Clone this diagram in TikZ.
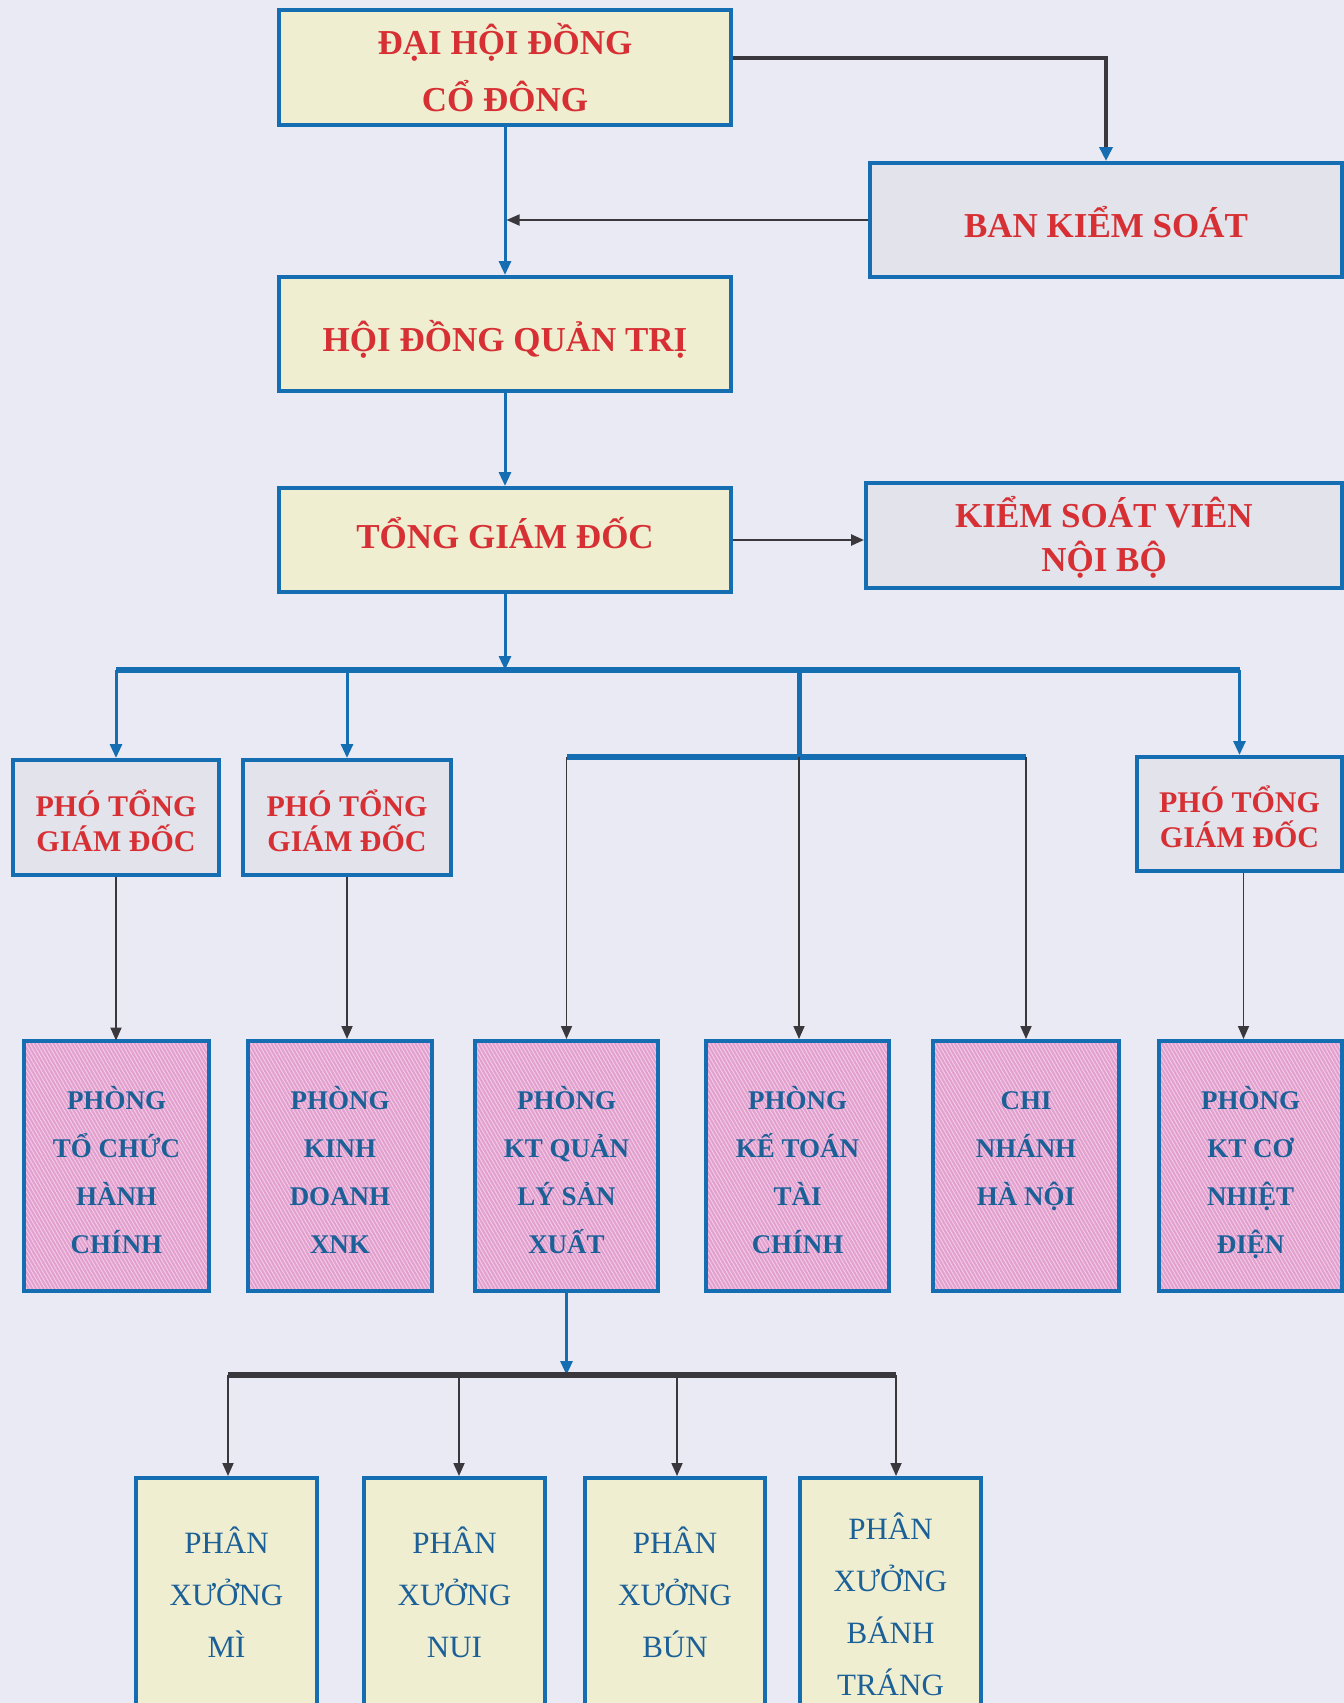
\documentclass[tikz,border=0pt]{standalone}
\usepackage{fontspec}
\setmainfont{Liberation Serif}
\usetikzlibrary{arrows.meta,patterns.meta}

\definecolor{bgc}{RGB}{233,234,243}
\definecolor{bordc}{RGB}{22,110,178}
\definecolor{redt}{RGB}{215,48,52}
\definecolor{bluet}{RGB}{28,96,152}
\definecolor{yelf}{RGB}{239,238,208}
\definecolor{grayf}{RGB}{226,227,235}
\definecolor{pinkf}{RGB}{226,160,206}
\definecolor{pinkl}{RGB}{244,206,232}
\definecolor{darkl}{RGB}{58,56,60}

\newcommand\fbig{\bfseries\fontsize{35}{57}\selectfont}
\newcommand\fksv{\bfseries\fontsize{35}{44}\selectfont}
\newcommand\fptg{\bfseries\fontsize{30}{35}\selectfont}
\newcommand\fpink{\bfseries\fontsize{27}{48}\selectfont}
\newcommand\fbot{\fontsize{31}{52}\selectfont}

\tikzset{
 box/.style={draw=bordc, line width=4pt, inner sep=0pt, align=center},
 ybox/.style={box, fill=yelf, text=redt, font=\fbig},
 gbox/.style={box, fill=grayf, text=redt, font=\fbig},
 ptgbox/.style={box, fill=grayf, text=redt, font=\fptg, minimum height=115pt, text height=70pt, text depth=3pt},
 pbox/.style={box, preaction={fill=pinkf}, pattern={Lines[angle=-60,distance=3.2pt,line width=0.9pt]}, pattern color=pinkl, text=bluet, font=\fpink, minimum height=250pt, text height=174pt, text depth=0pt},
 bbox/.style={box, fill=yelf, text=bluet, font=\fbot, minimum width=181pt},
 bluearr/.style={draw=bordc, line width=3pt, -{Triangle[length=14pt,width=12pt]}},
 blackarr/.style={draw=darkl, line width=1.8pt, -{Triangle[length=13pt,width=11pt]}},
 busline/.style={draw=bordc, line width=6pt},
}

\begin{document}
\begin{tikzpicture}[x=1pt,y=-1pt]
\useasboundingbox (0,0) rectangle (1344,1703);
\clip (0,0) rectangle (1344,1703);
\fill[bgc] (0,0) rectangle (1344,1703);

% top level
\node[ybox, minimum width=452pt, minimum height=115pt] (dhd) at (505,67.5) {ĐẠI HỘI ĐỒNG\\CỔ ĐÔNG};
\node[gbox, minimum width=472pt, minimum height=114pt, text height=40pt, text depth=5pt] (bks) at (1106,220) {BAN KIỂM SOÁT};
\node[ybox, minimum width=452pt, minimum height=114pt, text height=40pt, text depth=5pt] (hdqt) at (505,334) {HỘI ĐỒNG QUẢN TRỊ};
\node[ybox, minimum width=452pt, minimum height=104pt, text height=32pt, text depth=15pt] (tgd) at (505,540) {TỔNG GIÁM ĐỐC};
\node[gbox, font=\fksv, minimum width=476pt, minimum height=105pt, text height=78pt, text depth=7pt] (ksv) at (1104,535.5) {KIỂM SOÁT VIÊN\\NỘI BỘ};

% deputies
\node[ptgbox, minimum width=206pt] (ptg1) at (116,817.5) {PHÓ TỔNG\\GIÁM ĐỐC};
\node[ptgbox, minimum width=208pt] (ptg2) at (347,817.5) {PHÓ TỔNG\\GIÁM ĐỐC};
\node[ptgbox, minimum width=205pt, minimum height=114pt, text height=69pt] (ptg3) at (1239.5,814) {PHÓ TỔNG\\GIÁM ĐỐC};

% departments
\node[pbox, minimum width=185pt] (p1) at (116.5,1166) {PHÒNG\\TỔ CHỨC\\HÀNH\\CHÍNH};
\node[pbox, minimum width=184pt] (p2) at (340,1166) {PHÒNG\\KINH\\DOANH\\XNK};
\node[pbox, minimum width=183pt] (p3) at (566.5,1166) {PHÒNG\\KT QUẢN\\LÝ SẢN\\XUẤT};
\node[pbox, minimum width=183pt] (p4) at (797.5,1166) {PHÒNG\\KẾ TOÁN\\TÀI\\CHÍNH};
\node[pbox, minimum width=186pt] (p5) at (1026,1166) {CHI\\NHÁNH\\HÀ NỘI\\\phantom{X}};
\node[pbox, minimum width=183pt] (p6) at (1250.5,1166) {PHÒNG\\KT CƠ\\NHIỆT\\ĐIỆN};

% workshops
\node[bbox, minimum height=228pt] (b1) at (226.5,1592) {PHÂN\\XƯỞNG\\MÌ};
\node[bbox, minimum height=228pt] (b2) at (454.5,1592) {PHÂN\\XƯỞNG\\NUI};
\node[bbox, minimum width=180pt, minimum height=228pt] (b3) at (675,1592) {PHÂN\\XƯỞNG\\BÚN};
\node[bbox, minimum height=253pt] (b4) at (890.5,1604.5) {PHÂN\\XƯỞNG\\BÁNH\\TRÁNG};

% helper coordinates
\coordinate (busy) at (0,670);
\coordinate (sbusy) at (0,757);
\coordinate (bbusy) at (0,1375);
\coordinate (mid) at (799,670);
\coordinate (d1) at (228,1375);
\coordinate (d2) at (459,1375);
\coordinate (d3) at (677,1375);
\coordinate (d4) at (896,1375);

% top connectors
\draw[draw=darkl, line width=4pt, -{Triangle[length=14pt,width=13pt,color=bordc]}] ([yshift=10pt]dhd.east) -| (bks.north);
\draw[bluearr] (dhd.south) -- (hdqt.north);
\draw[blackarr, shorten >=1.5pt] (bks.west) -- (bks.west -| dhd.south);
\draw[bluearr] (hdqt.south) -- (tgd.north);
\draw[blackarr, line width=2.5pt] (tgd.east) -- (ksv.west |- tgd.east);
\draw[bluearr] (tgd.south) -- (tgd.south |- busy);

% main bus
\draw[busline] (ptg1.north |- busy) -- (ptg3.north |- busy);
\draw[bluearr] (ptg1.north |- busy) -- (ptg1.north);
\draw[bluearr] (ptg2.north |- busy) -- (ptg2.north);
\draw[bluearr] (ptg3.north |- busy) -- (ptg3.north);
\draw[draw=bordc, line width=5pt] (mid) -- (mid |- sbusy);
\draw[busline] (p3.north |- sbusy) -- (p5.north |- sbusy);
\draw[blackarr] (p3.north |- sbusy) -- (p3.north);
\draw[blackarr] (mid |- sbusy) -- (mid |- p4.north);
\draw[blackarr] (p5.north |- sbusy) -- (p5.north);

% deputies to departments
\draw[blackarr] (ptg1.south) -- (ptg1.south |- p1.north);
\draw[blackarr] (ptg2.south) -- (ptg2.south |- p2.north);
\draw[blackarr] ([xshift=4pt]ptg3.south) -- ([xshift=4pt]ptg3.south |- p6.north);

% workshops
\draw[bluearr] (p3.south) -- (p3.south |- bbusy);
\draw[draw=darkl, line width=6pt] (d1) -- (d4);
\draw[blackarr] (d1) -- (d1 |- b1.north);
\draw[blackarr] (d2) -- (d2 |- b2.north);
\draw[blackarr] (d3) -- (d3 |- b3.north);
\draw[blackarr] (d4) -- (d4 |- b4.north);
\end{tikzpicture}
\end{document}
